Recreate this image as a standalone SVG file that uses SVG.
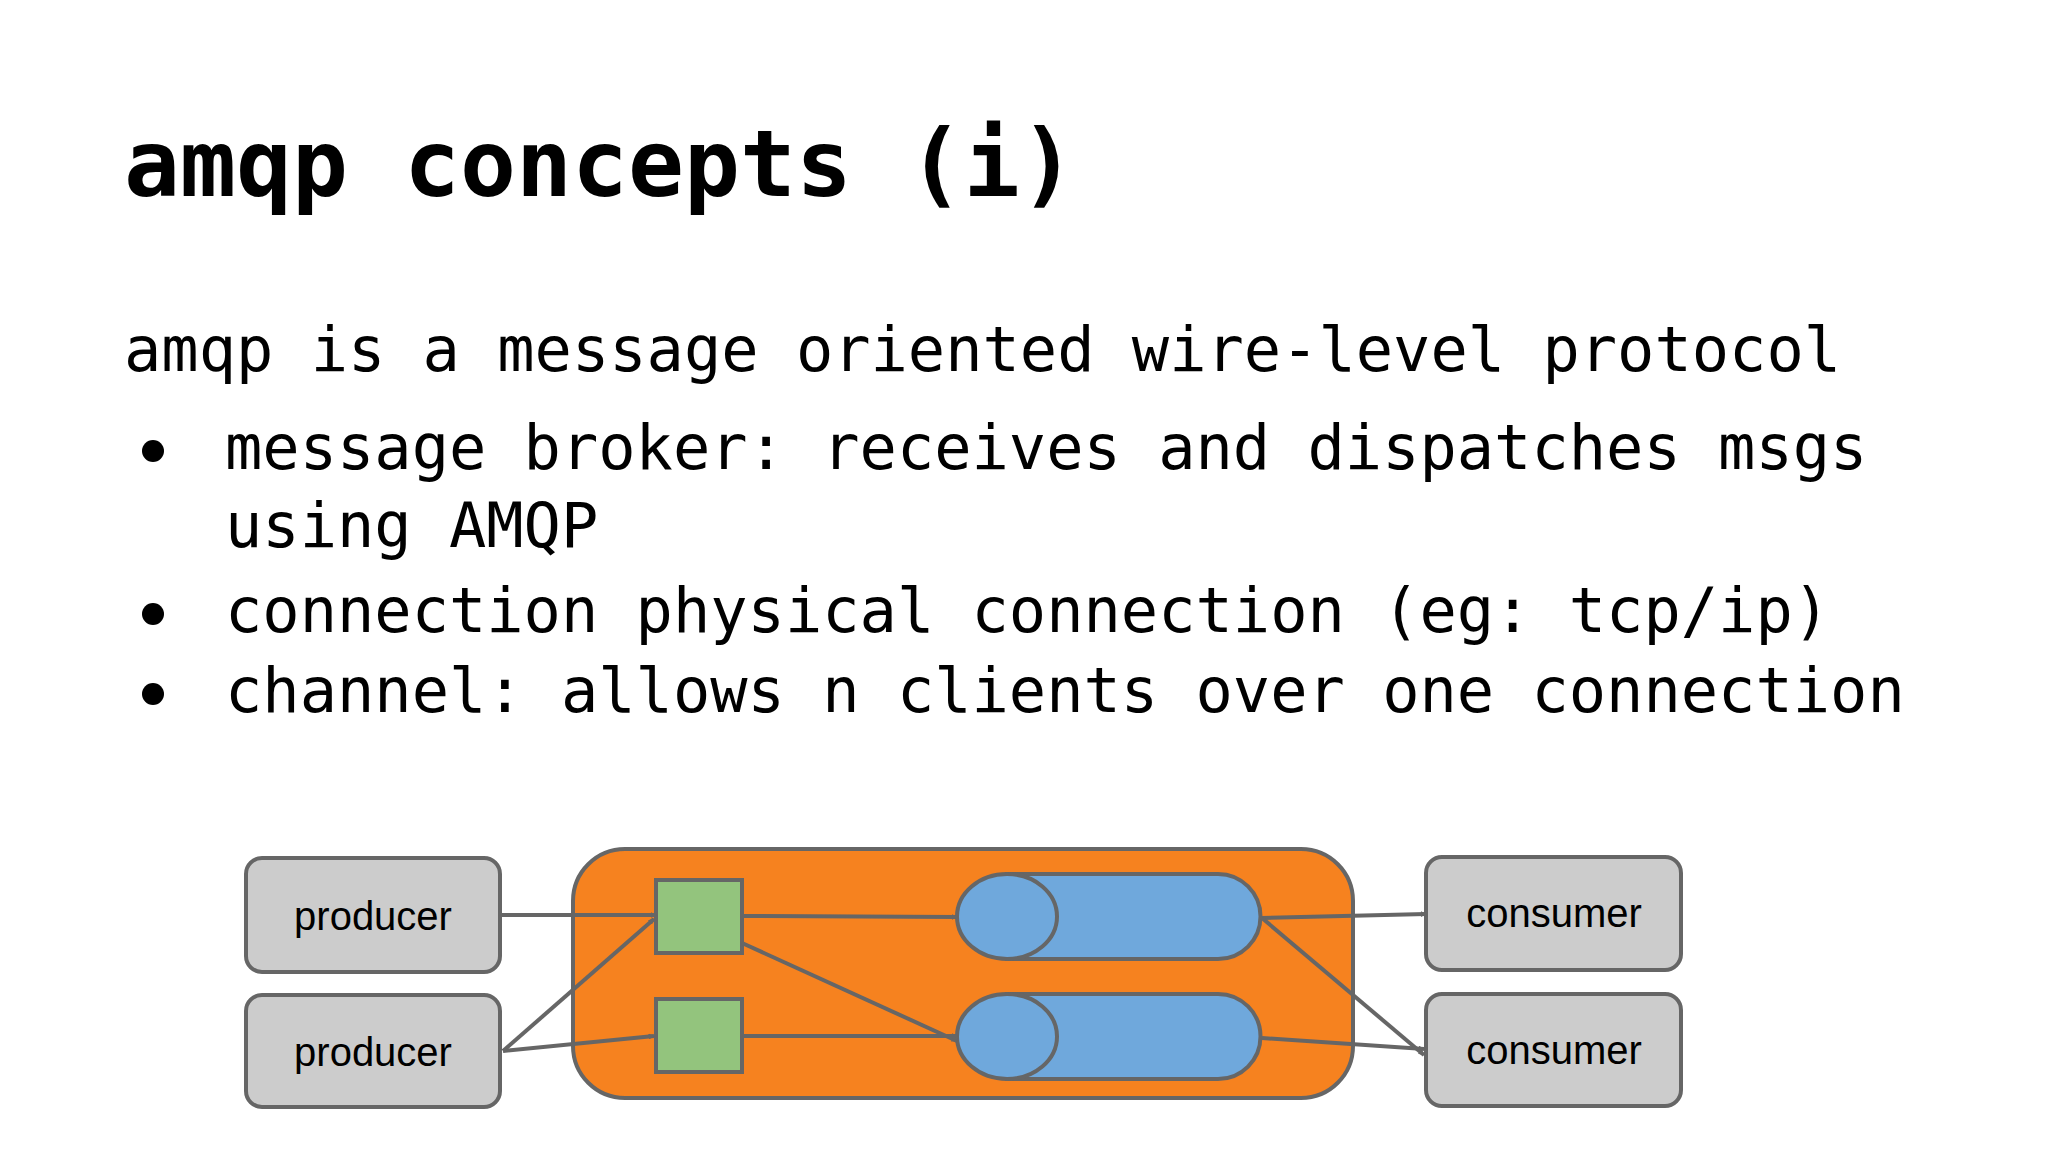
<svg xmlns="http://www.w3.org/2000/svg" width="2048" height="1152" viewBox="0 0 2048 1152">
<defs>
<style>
.mono{font-family:"DejaVu Sans Mono","Liberation Mono",monospace;fill:#000}
.box{fill:#cccccc;stroke:#666;stroke-width:4}
.lbl{font-family:"Liberation Sans",Arial,sans-serif;font-size:40px;fill:#000;text-anchor:middle}
.ex{fill:#93c47d;stroke:#666;stroke-width:4}
.q{fill:#6fa8dc;stroke:#666;stroke-width:4}
.c{stroke:#666;stroke-width:4;fill:none;marker-end:url(#ah)}
</style>
<marker id="ah" viewBox="0 0 10 10" refX="9" refY="5" markerWidth="6" markerHeight="6" markerUnits="userSpaceOnUse" orient="auto">
<path d="M0,0 L10,5 L0,10 Z" fill="#666"/>
</marker>
</defs>
<rect width="2048" height="1152" fill="#fff"/>
<text class="mono" x="124" y="196" font-size="93" font-weight="bold">amqp concepts (i)</text>
<g class="mono" font-size="62">
<text x="124" y="371">amqp is a message oriented wire-level protocol</text>
<text x="225" y="469">message broker: receives and dispatches msgs</text>
<text x="225" y="547">using AMQP</text>
<text x="225" y="632">connection physical connection (eg: tcp/ip)</text>
<text x="225" y="712">channel: allows n clients over one connection</text>
<circle cx="153" cy="451" r="11"/>
<circle cx="153" cy="614" r="11"/>
<circle cx="153" cy="694" r="11"/>
</g>
<g id="broker"><rect x="573" y="849" width="780" height="249" rx="52" fill="#f6821f" stroke="#666" stroke-width="4"/></g>
<g id="producer1"><rect class="box" x="246" y="858" width="254" height="114" rx="16"/><text class="lbl" x="373" y="930">producer</text></g>
<g id="producer2"><rect class="box" x="246" y="995" width="254" height="112" rx="16"/><text class="lbl" x="373" y="1066">producer</text></g>
<g id="consumer1"><rect class="box" x="1426" y="857" width="255" height="113" rx="16"/><text class="lbl" x="1554" y="927">consumer</text></g>
<g id="consumer2"><rect class="box" x="1426" y="994" width="255" height="112" rx="16"/><text class="lbl" x="1554" y="1064">consumer</text></g>
<g id="exchange1"><rect class="ex" x="656" y="880" width="86" height="73"/></g>
<g id="exchange2"><rect class="ex" x="656" y="999" width="86" height="73"/></g>
<g id="queue1"><path class="q" d="M1007,874 H1218 A42,42 0 0 1 1218,959 H1007 Z"/><ellipse class="q" cx="1007" cy="916.5" rx="50" ry="42.5"/></g>
<g id="queue2"><path class="q" d="M1007,994 H1218 A42,42 0 0 1 1218,1079 H1007 Z"/><ellipse class="q" cx="1007" cy="1036.5" rx="50" ry="42.5"/></g>
<g id="connectors">
<line class="c" x1="500" y1="915" x2="656" y2="915"/>
<line class="c" x1="503" y1="1051" x2="654" y2="919"/>
<line class="c" x1="503" y1="1051" x2="654" y2="1036"/>
<line class="c" x1="742" y1="916" x2="957" y2="917"/>
<line class="c" x1="742" y1="943" x2="957" y2="1041"/>
<line class="c" x1="742" y1="1036" x2="957" y2="1036"/>
<line class="c" x1="1262" y1="918" x2="1426" y2="914"/>
<line class="c" x1="1262" y1="918" x2="1424" y2="1055"/>
<line class="c" x1="1262" y1="1038" x2="1424" y2="1049"/>
</g>
</svg>
